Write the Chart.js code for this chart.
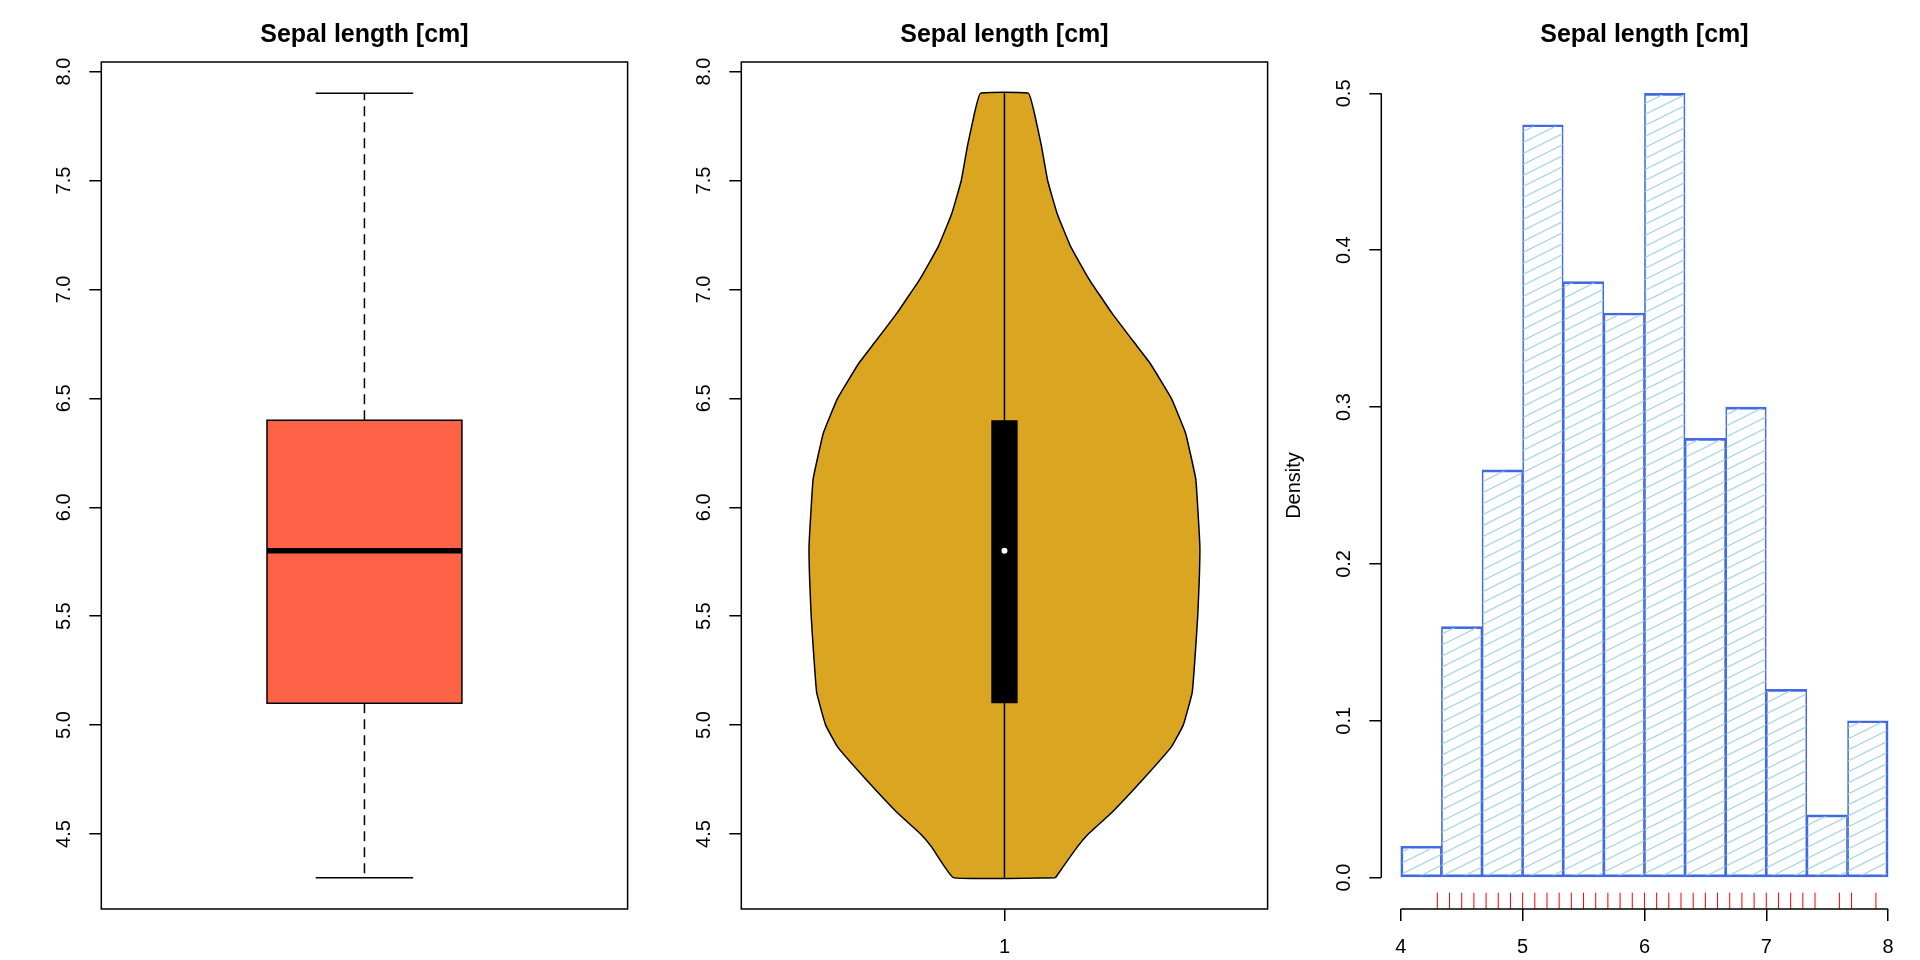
<!DOCTYPE html>
<html>
<head>
<meta charset="utf-8">
<title>Sepal length [cm]</title>
<script src="https://cdn.jsdelivr.net/npm/chart.js@4.4.1/dist/chart.umd.min.js"></script>
<style>
  html, body { margin: 0; padding: 0; background: #fff; }
  #wrap { position: relative; width: 1920px; height: 960px; }
  #wrap canvas { position: absolute; top: 0; }
</style>
</head>
<body>
<div id="wrap">
  <canvas id="boxChart" width="640" height="960" style="left:0"></canvas>
  <canvas id="violinChart" width="640" height="960" style="left:640px"></canvas>
  <canvas id="histChart" width="640" height="960" style="left:1280px"></canvas>
</div>
<script>
const FONT = '"Liberation Sans", Arial, Helvetica, sans-serif';

// Values
const plotTitle = 'Sepal length [cm]';
const boxStats = [4.3, 5.1, 5.8, 6.4, 7.9]; // min, lower hinge, median, upper hinge, max
const valueTicks = [4.5, 5.0, 5.5, 6.0, 6.5, 7.0, 7.5, 8.0];

const groupPositions = [1];
const groupLabels = ['1'];

// violin outline: value and relative half-width
const violinY = [4.3, 4.44, 4.5, 4.6, 4.75, 4.9, 5.0, 5.15, 5.36, 5.5, 5.67, 5.82, 6.0,
  6.13, 6.34, 6.5, 6.66, 6.74, 6.89, 7.05, 7.2, 7.35, 7.5, 7.66, 7.81, 7.9];
const violinDensity = [0.261, 0.372, 0.429, 0.551, 0.708, 0.854, 0.915, 0.961, 0.979, 0.989, 0.997, 1.0, 0.989,
  0.979, 0.927, 0.854, 0.746, 0.678, 0.551, 0.431, 0.337, 0.269, 0.221, 0.189, 0.153, 0.123];

const histBreaks = [4, 4.333, 4.667, 5, 5.333, 5.667, 6, 6.333, 6.667, 7, 7.333, 7.667, 8];
const histDensity = [0.02, 0.16, 0.26, 0.48, 0.38, 0.36, 0.50, 0.28, 0.30, 0.12, 0.04, 0.10];
const histXTicks = [4, 5, 6, 7, 8];
const histYTicks = [0, 0.1, 0.2, 0.3, 0.4, 0.5];
const rugValues = [4.3, 4.4, 4.5, 4.6, 4.7, 4.8, 4.9, 5.0, 5.1, 5.2, 5.3, 5.4, 5.5, 5.6, 5.7, 5.8,
  5.9, 6.0, 6.1, 6.2, 6.3, 6.4, 6.5, 6.6, 6.7, 6.8, 6.9, 7.0, 7.1, 7.2, 7.3, 7.4, 7.6, 7.7, 7.9];

// plot region inside each 640x960 panel (R style margins)
const PLOT = { left: 101.3, right: 627.6, top: 62, bottom: 909 };
const BOX_HALF = 0.2;
const STAPLE_HALF = 0.1;
const VIOLIN_HALF = 0.401;
const VIOLIN_BOX_HALF = 0.027;
const RUG_SIZE = 0.0193;

Chart.defaults.font.family = FONT;
Chart.defaults.color = '#000';

// R pads axis ranges by 4%
function rRange(lo, hi) {
  const e = (hi - lo) * 0.04;
  return [lo - e, hi + e];
}

const valueRange = rRange(boxStats[0], boxStats[4]);
const groupRange = rRange(0.5, groupPositions.length + 0.5);
const histXRange = rRange(histBreaks[0], histBreaks[histBreaks.length - 1]);
const histYRange = rRange(0, Math.max(...histDensity));

const rStyle = {
  id: 'rStyle',
  afterDraw(chart, args, opts) {
    const ctx = chart.ctx;
    const a = chart.chartArea;
    const xs = chart.scales.x;
    const ys = chart.scales.y;
    ctx.save();
    ctx.fillStyle = '#000';
    ctx.strokeStyle = '#000';
    ctx.lineWidth = 1.5;

    if (opts.frame) {
      ctx.strokeRect(a.left, a.top, a.right - a.left, a.bottom - a.top);
    }
    if (opts.axisLines) {
      const yt = ys.ticks, xt = xs.ticks;
      ctx.beginPath();
      ctx.moveTo(a.left, ys.getPixelForValue(yt[0].value));
      ctx.lineTo(a.left, ys.getPixelForValue(yt[yt.length - 1].value));
      ctx.moveTo(xs.getPixelForValue(xt[0].value), a.bottom);
      ctx.lineTo(xs.getPixelForValue(xt[xt.length - 1].value), a.bottom);
      ctx.stroke();
    }

    ctx.textAlign = 'center';
    ctx.font = 'bold 25px ' + FONT;
    ctx.textBaseline = 'alphabetic';
    ctx.fillText(opts.title, (a.left + a.right) / 2, 42);

    // y tick labels run parallel to the axis, like R's las = 0
    ctx.font = '20px ' + FONT;
    ctx.textBaseline = 'middle';
    ys.ticks.forEach(t => {
      ctx.save();
      ctx.translate(a.left - 37, ys.getPixelForValue(t.value));
      ctx.rotate(-Math.PI / 2);
      ctx.fillText(opts.yFormat(t.value), 0, 0);
      ctx.restore();
    });
    if (opts.yTitle) {
      ctx.save();
      ctx.translate(14, (a.top + a.bottom) / 2);
      ctx.rotate(-Math.PI / 2);
      ctx.fillText(opts.yTitle, 0, 0);
      ctx.restore();
    }
    ctx.restore();
  }
};

const tickGrid = { drawOnChartArea: false, drawTicks: true, tickLength: 12, color: '#000', lineWidth: 1.5, offset: false };

function valueAxis(range, ticks) {
  return {
    type: 'linear', position: 'left', min: range[0], max: range[1], bounds: 'data',
    afterBuildTicks: s => { s.ticks = ticks.map(v => ({ value: v })); },
    afterFit: s => { s.width = PLOT.left; },
    ticks: { display: false },
    grid: tickGrid,
    border: { display: false }
  };
}

// the bottom axis always reserves the lower margin, even when hidden
function bottomAxis(range, ticks, labels, show) {
  return {
    type: 'linear', position: 'bottom', min: range[0], max: range[1], bounds: 'data',
    display: show, offset: false,
    afterBuildTicks: s => { s.ticks = ticks.map(v => ({ value: v })); },
    afterFit: s => { s.height = 960 - PLOT.bottom; },
    ticks: { padding: 14, font: { size: 20 }, color: '#000', autoSkip: false, maxRotation: 0,
      callback: (v, i) => labels[i] },
    grid: tickGrid,
    border: { display: false }
  };
}

function baseOptions(xAxis, yAxis, style) {
  return {
    responsive: false,
    devicePixelRatio: 1,
    animation: false,
    events: [],
    layout: { padding: { left: 0, top: PLOT.top, right: 640 - PLOT.right, bottom: 0 } },
    scales: { x: xAxis, y: yAxis },
    plugins: { legend: { display: false }, tooltip: { enabled: false }, rStyle: style }
  };
}

function segment(points, extra) {
  return Object.assign({ data: points, showLine: true, pointRadius: 0, borderColor: '#000',
    borderWidth: 1.5, fill: false, tension: 0 }, extra);
}

// ---- boxplot ----
const c = groupPositions[0];
const [bMin, bLo, bMed, bHi, bMax] = boxStats;

new Chart(document.getElementById('boxChart'), {
  type: 'scatter',
  data: {
    datasets: [
      segment([{ x: c - BOX_HALF, y: bMed }, { x: c + BOX_HALF, y: bMed }], { borderWidth: 5.5, order: 0 }),
      segment([{ x: c - BOX_HALF, y: bLo }, { x: c + BOX_HALF, y: bLo }, { x: c + BOX_HALF, y: bHi },
        { x: c - BOX_HALF, y: bHi }, { x: c - BOX_HALF, y: bLo }],
        { fill: 'shape', backgroundColor: '#FF6347', borderCapStyle: 'square', order: 1 }),
      segment([{ x: c, y: bHi }, { x: c, y: bMax }], { borderDash: [10, 6], order: 2 }),
      segment([{ x: c, y: bLo }, { x: c, y: bMin }], { borderDash: [10, 6], order: 2 }),
      segment([{ x: c - STAPLE_HALF, y: bMax }, { x: c + STAPLE_HALF, y: bMax }], { order: 2 }),
      segment([{ x: c - STAPLE_HALF, y: bMin }, { x: c + STAPLE_HALF, y: bMin }], { order: 2 })
    ]
  },
  options: baseOptions(
    bottomAxis(groupRange, [], [], false),
    valueAxis(valueRange, valueTicks),
    { title: plotTitle, frame: true, yFormat: v => v.toFixed(1) }
  ),
  plugins: [rStyle]
});

// ---- violin ----
const violinShape = [];
violinY.forEach((y, i) => violinShape.push({ x: c + violinDensity[i] * VIOLIN_HALF, y }));
for (let i = violinY.length - 1; i >= 0; i--) {
  violinShape.push({ x: c - violinDensity[i] * VIOLIN_HALF, y: violinY[i] });
}
violinShape.push({ x: violinShape[0].x, y: violinShape[0].y });

new Chart(document.getElementById('violinChart'), {
  type: 'scatter',
  data: {
    datasets: [
      { data: [{ x: c, y: bMed }], pointRadius: 3, pointBackgroundColor: '#fff', pointBorderWidth: 0,
        pointBorderColor: '#fff', order: 0 },
      segment([{ x: c - VIOLIN_BOX_HALF, y: bLo }, { x: c + VIOLIN_BOX_HALF, y: bLo }, { x: c + VIOLIN_BOX_HALF, y: bHi },
        { x: c - VIOLIN_BOX_HALF, y: bHi }, { x: c - VIOLIN_BOX_HALF, y: bLo }],
        { fill: 'shape', backgroundColor: '#000', borderWidth: 0, order: 1 }),
      segment([{ x: c, y: bMin }, { x: c, y: bMax }], { order: 2 }),
      segment(violinShape, { fill: 'shape', backgroundColor: '#DAA520', tension: 0.1, order: 3 })
    ]
  },
  options: baseOptions(
    bottomAxis(groupRange, groupPositions, groupLabels, true),
    valueAxis(valueRange, valueTicks),
    { title: plotTitle, frame: true, yFormat: v => v.toFixed(1) }
  ),
  plugins: [rStyle]
});

// ---- histogram ----
const hatch = document.createElement('canvas');
hatch.width = 22;
hatch.height = 11;
const hctx = hatch.getContext('2d');
hctx.strokeStyle = '#ADD8E6';
hctx.lineWidth = 1.4;
[-11, 0, 11].forEach(dy => {
  hctx.beginPath();
  hctx.moveTo(0, 11 + dy);
  hctx.lineTo(22, dy);
  hctx.stroke();
});
const hatchPattern = hctx.createPattern(hatch, 'repeat');

const histBars = histDensity.map((d, i) => ({ x: (histBreaks[i] + histBreaks[i + 1]) / 2, y: d }));
const rugLo = histYRange[0];
const rugHi = histYRange[0] + RUG_SIZE * (histYRange[1] - histYRange[0]);
const rugPoints = rugValues.flatMap(v => [{ x: v, y: rugLo }, { x: v, y: rugHi }, { x: v, y: null }]);
const lastBar = histDensity.length - 1;

new Chart(document.getElementById('histChart'), {
  type: 'bar',
  data: {
    datasets: [
      { type: 'line', data: rugPoints, borderColor: '#FF0000', borderWidth: 1, pointRadius: 0,
        spanGaps: false, fill: false, order: 0 },
      { data: histBars, backgroundColor: hatchPattern, borderColor: '#4169E1', borderSkipped: false,
        borderWidth: ctx => ({ top: 2, bottom: 2, left: ctx.dataIndex === 0 ? 2 : 1,
          right: ctx.dataIndex === lastBar ? 2 : 1 }),
        barPercentage: 1, categoryPercentage: 1, order: 1 }
    ]
  },
  options: baseOptions(
    bottomAxis(histXRange, histXTicks, histXTicks.map(String), true),
    valueAxis(histYRange, histYTicks),
    { title: plotTitle, axisLines: true, yTitle: 'Density', yFormat: v => v.toFixed(1) }
  ),
  plugins: [rStyle]
});
</script>
</body>
</html>
